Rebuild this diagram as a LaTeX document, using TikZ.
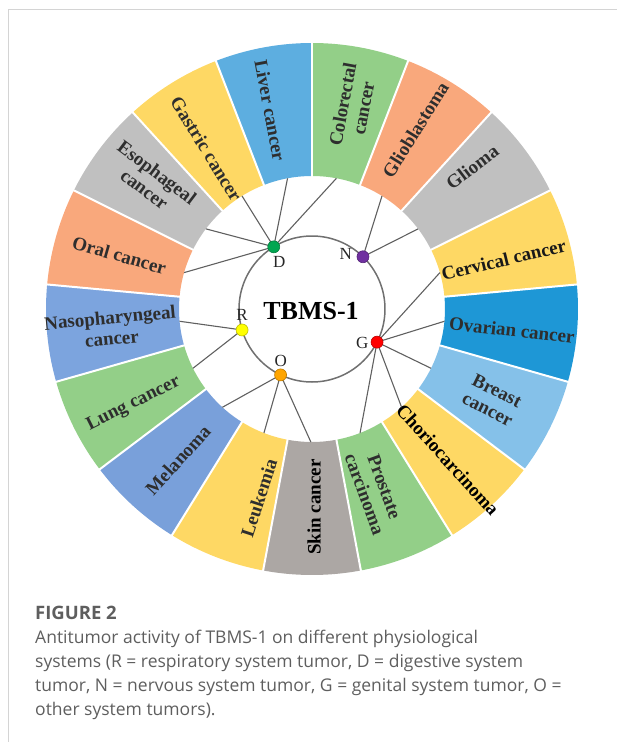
\documentclass[tikz,border=0pt]{standalone}
\usepackage{fontspec}
\setmainfont{Liberation Serif}
\newfontfamily\capfont{Open Sans}
\definecolor{cGreen}{HTML}{93CF88}
\definecolor{cSalmon}{HTML}{F9A87C}
\definecolor{cGray}{HTML}{C0C0C0}
\definecolor{cYellow}{HTML}{FED864}
\definecolor{cOvarian}{HTML}{1E97D6}
\definecolor{cBreast}{HTML}{85C1E9}
\definecolor{cSkin}{HTML}{ACA7A4}
\definecolor{cMelanoma}{HTML}{79A0DA}
\definecolor{cNaso}{HTML}{7CA4DE}
\definecolor{cLiver}{HTML}{5DAEE0}
\definecolor{labelgray}{HTML}{2E2E2E}
\definecolor{conngray}{HTML}{606060}
\definecolor{ringgray}{HTML}{707070}
\definecolor{framegray}{HTML}{D4D4D4}
\definecolor{capgray}{HTML}{5E5E5E}
\definecolor{dGreen}{HTML}{00A651}
\definecolor{dPurple}{HTML}{7030A0}
\definecolor{dRed}{HTML}{FF0000}
\definecolor{dOrange}{HTML}{FFA500}
\definecolor{dYellow}{HTML}{FFFF00}
\begin{document}
\begin{tikzpicture}[x=1pt,y=1pt,
  seglabel/.style={font=\fontsize{19}{21}\selectfont\bfseries, text=labelgray, align=center, inner sep=0pt},
  conn/.style={draw=conngray, line width=1.1pt},
  dotnode/.style={circle, minimum size=12pt, inner sep=0pt, draw=#1!75!black, fill=#1, line width=0.6pt},
  letter/.style={font=\fontsize{17}{17}\selectfont, text=black!85, inner sep=0pt},
  frameline/.style={draw=framegray, line width=1.2pt},
  captext/.style={font=\capfont\fontsize{17.5}{17.5}\selectfont, text=capgray, anchor=base west, inner sep=0pt},
]
\useasboundingbox (-312,-433) rectangle (305,309);
% frame
\draw[frameline] (305,299.5) -- (-303.5,299.5) -- (-303.5,-433);
% segments
\foreach \i/\col in {0/cGreen,1/cSalmon,2/cGray,3/cYellow,4/cOvarian,5/cBreast,6/cYellow,7/cGreen,8/cSkin,9/cYellow,10/cMelanoma,11/cGreen,12/cNaso,13/cSalmon,14/cGray,15/cYellow,16/cLiver}{
  \pgfmathsetmacro\a{90-\i*360/17}
  \pgfmathsetmacro\b{90-(\i+1)*360/17}
  \fill[\col] (\a:133pt) arc[start angle=\a, end angle=\b, radius=133pt] -- (\b:266pt) arc[start angle=\b, end angle=\a, radius=266pt] -- cycle;
}
\foreach \i in {0,...,16}{
  \draw[white, line width=2pt] ({90-\i*360/17}:132pt) -- ({90-\i*360/17}:268pt);
}
% labels
\node[seglabel, rotate=79.41] (tColo) at (78.6:207pt) {Colorectal\\cancer};
\node[seglabel, rotate=58.24] (tGliob) at (60:207pt) {Glioblastoma};
\node[seglabel, rotate=37.06] (tGlioma) at (41.5:214pt) {Glioma};
\node[seglabel, rotate=13.5, text=black!90] (tCerv) at (14.4:198pt) {Cervical cancer};
\node[seglabel, rotate=-6.5] (tOva) at (-6:201pt) {Ovarian cancer};
\node[seglabel, rotate=-26.47] (tBreast) at (-26.8:202pt) {Breast\\cancer};
\node[seglabel, rotate=-47.65, text=black] (tChorio) at (-48:203pt) {Choriocarcinoma};
\node[seglabel, rotate=-70] (tPros) at (-71:192pt) {Prostate\\carcinoma};
\node[seglabel, rotate=90, text=black] (tSkin) at (-89.4:198pt) {Skin cancer};
\node[seglabel, rotate=72] (tLeuk) at (-105.7:196pt) {Leukemia};
\node[seglabel, rotate=47.65] (tMela) at (-131.6:202pt) {Melanoma};
\node[seglabel, rotate=26.47] (tLung) at (-152:202pt) {Lung cancer};
\node[seglabel, rotate=5.29] (tNaso) at (-174.6:202pt) {Nasopharyngeal\\cancer};
\node[seglabel, rotate=-15.88] (tOral) at (164.4:200pt) {Oral cancer};
\node[seglabel, rotate=-37.06] (tEso) at (141.5:206pt) {Esophageal\\cancer};
\node[seglabel, rotate=-58.24] (tGast) at (123.4:192pt) {Gastric cancer};
\node[seglabel, rotate=-79.41] (tLiver) at (101.9:203pt) {Liver cancer};
% inner circle
\draw[ringgray, line width=1.5pt] (0,0) circle[radius=73pt];
\node[font=\fontsize{26}{26}\selectfont\bfseries, inner sep=0pt] (title) at (-1,-2.5) {TBMS-1};
% dot positions
\coordinate (pD) at (121.6:73pt);
\coordinate (pN) at (45.7:73pt);
\coordinate (pG) at (-27:73pt);
\coordinate (pO) at (-115.5:73pt);
\coordinate (pR) at (-163.3:73pt);
% segment inner end points
\coordinate (eColo) at (79.41:133pt);
\coordinate (eGliob) at (58.24:133pt);
\coordinate (eGlioma) at (37.06:133pt);
\coordinate (eCerv) at (15.88:133pt);
\coordinate (eOva) at (-5.29:133pt);
\coordinate (eBreast) at (-26.47:133pt);
\coordinate (eChorio) at (-47.65:133pt);
\coordinate (ePros) at (-68.82:133pt);
\coordinate (eSkin) at (-90.5:133pt);
\coordinate (eLeuk) at (-111.18:133pt);
\coordinate (eMela) at (-132.35:133pt);
\coordinate (eLung) at (-153.53:133pt);
\coordinate (eNaso) at (-174.71:133pt);
\coordinate (eOral) at (164.12:133pt);
\coordinate (eEso) at (142.94:133pt);
\coordinate (eGast) at (121.76:133pt);
\coordinate (eLiver) at (100.59:133pt);
% connectors
\foreach \e in {eColo,eLiver,eGast,eEso,eOral} \draw[conn] (pD) -- (\e);
\foreach \e in {eGliob,eGlioma} \draw[conn] (pN) -- (\e);
\foreach \e in {eCerv,eOva,eBreast,eChorio,ePros} \draw[conn] (pG) -- (\e);
\foreach \e in {eMela,eLeuk,eSkin} \draw[conn] (pO) -- (\e);
\foreach \e in {eNaso,eLung} \draw[conn] (pR) -- (\e);
% dots
\node[dotnode=dGreen] (D) at (pD) {};
\node[dotnode=dPurple] (N) at (pN) {};
\node[dotnode=dRed] (G) at (pG) {};
\node[dotnode=dOrange] (O) at (pO) {};
\node[dotnode=dYellow] (R) at (pR) {};
\node[letter] (lD) at (-32.7,47.3) {D};
\node[letter] (lN) at (33.7,55) {N};
\node[letter] (lG) at (50.3,-34.3) {G};
\node[letter] (lO) at (-31.3,-52) {O};
\node[letter] (lR) at (-70,-6) {R};
% caption
\node[captext, font=\capfont\fontsize{18.5}{18.5}\selectfont\bfseries] (cap0) at (-277,-310) {FIGURE 2};
\node[captext] (cap1) at (-277,-334) {Antitumor activity of TBMS-1 on different physiological};
\node[captext] (cap2) at (-277,-358) {systems (R = respiratory system tumor, D = digestive system};
\node[captext] (cap3) at (-277,-382) {tumor, N = nervous system tumor, G = genital system tumor, O =};
\node[captext] (cap4) at (-277,-406) {other system tumors).};
\end{tikzpicture}
\end{document}
